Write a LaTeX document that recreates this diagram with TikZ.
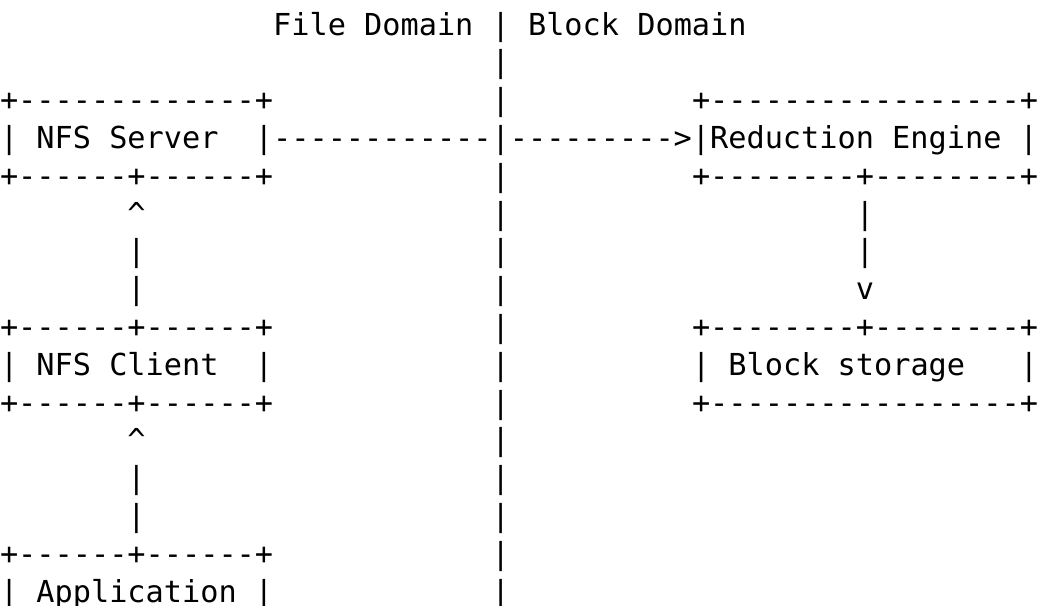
\documentclass[tikz,border=0pt]{standalone}
\usepackage{fontspec}
\newfontfamily\asciifont{DejaVu Sans Mono}[Ligatures=TeXOff]
\usetikzlibrary{positioning}
\tikzstyle{ascii}=[anchor=base west, inner sep=0pt, outer sep=0pt, font=\asciifont\fontsize{10}{12}\selectfont]
\newcommand{\caret}{\char"005E}

\begin{document}
\begin{tikzpicture}[x=6.0205pt, y=-12.5pt]
    \useasboundingbox (0,-0.926) rectangle (57,15.098);

    % header
    \node (domains) [ascii] at (15,0) {File Domain | Block Domain};

    % divider between the two domains
    \foreach \r in {1,2,4,5,6,7,8,9,10,11,12,13,14,15}
        \node (div\r) [ascii] at (27,\r) {|};

    % NFS server and the path to the reduction engine
    \node (srvtop) [ascii] at (0,2) {+-------------+};
    \node (redtop) [ascii] at (38,2) {+-----------------+};
    \node (srv) [ascii] at (0,3) {| NFS Server\ \ |------------|--------->|Reduction Engine |};
    \node (srvbot) [ascii] at (0,4) {+------+------+};
    \node (redbot) [ascii] at (38,4) {+--------+--------+};

    % client -> server, engine -> storage
    \node (up1) [ascii] at (7,5) {\caret};
    \node (up1a) [ascii] at (7,6) {|};
    \node (up1b) [ascii] at (7,7) {|};
    \node (down1) [ascii] at (47,5) {|};
    \node (down1a) [ascii] at (47,6) {|};
    \node (down1b) [ascii] at (47,7) {v};

    % NFS client and block storage
    \node (clitop) [ascii] at (0,8) {+------+------+};
    \node (stotop) [ascii] at (38,8) {+--------+--------+};
    \node (cli) [ascii] at (0,9) {| NFS Client\ \ |};
    \node (sto) [ascii] at (38,9) {| Block storage\ \ \ |};
    \node (clibot) [ascii] at (0,10) {+------+------+};
    \node (stobot) [ascii] at (38,10) {+-----------------+};

    % application -> client
    \node (up2) [ascii] at (7,11) {\caret};
    \node (up2a) [ascii] at (7,12) {|};
    \node (up2b) [ascii] at (7,13) {|};
    \node (apptop) [ascii] at (0,14) {+------+------+};
    \node (app) [ascii] at (0,15) {| Application |};
\end{tikzpicture}
\end{document}
